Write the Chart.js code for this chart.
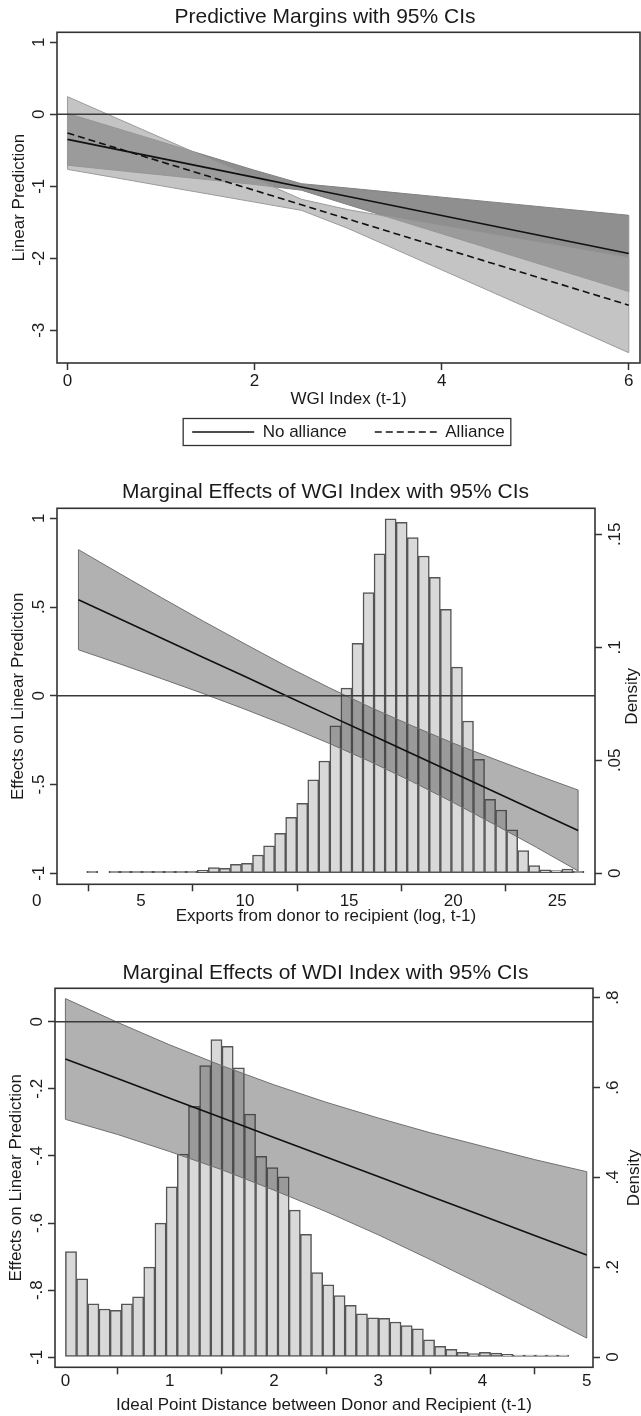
<!DOCTYPE html>
<html>
<head>
<meta charset="utf-8">
<script src="https://cdn.jsdelivr.net/npm/chart.js@4.4.1/dist/chart.umd.min.js"></script>
<style>
  html, body { margin: 0; padding: 0; background: #fff; }
  #wrap { position: relative; width: 641px; height: 1416px; overflow: hidden; }
  canvas { position: absolute; left: 0; }
</style>
</head>
<body>
<div id="wrap">
  <canvas id="c1" width="641" height="460" style="top:0"></canvas>
  <canvas id="c2" width="641" height="470" style="top:460px"></canvas>
  <canvas id="c3" width="641" height="486" style="top:930px"></canvas>
</div>
<script>
/* global Chart */

// panel 1: predictive margins over WGI index
const p1X = [0, 0.5, 1, 1.5, 2, 2.5, 3, 3.5, 4, 4.5, 5, 5.5, 6];
const p1NoAlliance = [-0.348, -0.480, -0.612, -0.744, -0.876, -1.009, -1.141, -1.273, -1.405, -1.537, -1.669, -1.801, -1.933];
const p1NoAllianceHi = [0.012, -0.185, -0.382, -0.580, -0.777, -0.964, -1.025, -1.088, -1.151, -1.214, -1.277, -1.340, -1.403];
const p1NoAllianceLo = [-0.708, -0.775, -0.842, -0.908, -0.975, -1.054, -1.257, -1.458, -1.659, -1.860, -2.061, -2.262, -2.463];
const p1Alliance = [-0.260, -0.459, -0.659, -0.858, -1.057, -1.257, -1.456, -1.655, -1.855, -2.054, -2.253, -2.453, -2.652];
const p1AllianceHi = [0.245, -0.040, -0.325, -0.610, -0.894, -1.180, -1.326, -1.437, -1.549, -1.660, -1.771, -1.883, -1.992];
const p1AllianceLo = [-0.765, -0.878, -0.993, -1.106, -1.220, -1.334, -1.586, -1.873, -2.161, -2.448, -2.735, -3.023, -3.312];
const p1XTicks = [0, 2, 4, 6];
const p1YTicks = [-3, -2, -1, 0, 1];

// panel 2: marginal effect of WGI over exports, with export histogram
const p2X = [2, 4, 6, 8, 10, 12, 14, 16, 18, 20, 22, 24, 26];
const p2Effect = [0.541, 0.433, 0.324, 0.216, 0.108, -0.001, -0.109, -0.217, -0.325, -0.434, -0.542, -0.650, -0.759];
const p2Hi = [0.823, 0.687, 0.552, 0.420, 0.292, 0.166, 0.048, -0.064, -0.168, -0.267, -0.358, -0.446, -0.531];
const p2Lo = [0.259, 0.179, 0.096, 0.012, -0.076, -0.168, -0.266, -0.370, -0.482, -0.601, -0.726, -0.854, -0.987];
const p2BinStart = 2.40;
const p2BinWidth = 0.5307;
const p2Density = [0.0003, null, 0.0001, 0.0001, 0.0002, 0.0001, 0.0002, 0.0003, 0.0004, 0.0006,
  0.0013, 0.0025, 0.0022, 0.004, 0.0044, 0.0081, 0.0122, 0.0177, 0.0248, 0.031,
  0.0413, 0.0497, 0.0652, 0.0819, 0.1018, 0.1242, 0.1413, 0.1568, 0.1553, 0.1485,
  0.1404, 0.131, 0.1168, 0.0912, 0.0674, 0.0504, 0.0327, 0.028, 0.0192, 0.010,
  0.0034, 0.0015, 0.0012, 0.0019, 0.0003];
const p2XTicks = [0, 5, 10, 15, 20, 25];
const p2YTicks = [-1, -0.5, 0, 0.5, 1];
const p2DensityTicks = [0, 0.05, 0.1, 0.15];

// panel 3: marginal effect of WDI over ideal point distance, with histogram
const p3X = [0, 0.5, 1, 1.5, 2, 2.5, 3, 3.5, 4, 4.5, 5];
const p3Effect = [-0.111, -0.169, -0.228, -0.286, -0.345, -0.403, -0.461, -0.520, -0.578, -0.637, -0.695];
const p3Hi = [0.069, -0.002, -0.069, -0.131, -0.188, -0.240, -0.287, -0.331, -0.371, -0.411, -0.447];
const p3Lo = [-0.291, -0.336, -0.387, -0.441, -0.502, -0.566, -0.635, -0.709, -0.785, -0.863, -0.943];
const p3BinStart = 0;
const p3BinWidth = 0.1073;
const p3Density = [0.235, 0.174, 0.1185, 0.107, 0.104, 0.1185, 0.134, 0.200, 0.298, 0.379,
  0.452, 0.558, 0.649, 0.707, 0.692, 0.644, 0.541, 0.447, 0.422, 0.401,
  0.327, 0.273, 0.188, 0.161, 0.137, 0.115, 0.096, 0.087, 0.086, 0.078,
  0.070, 0.063, 0.0385, 0.024, 0.017, 0.0104, 0.0074, 0.0104, 0.009, 0.006,
  0.003, 0.0015, 0.0005, 0.001, 0.001];
const p3XTicks = [0, 1, 2, 3, 4, 5];
const p3YTicks = [-1, -0.8, -0.6, -0.4, -0.2, 0];
const p3DensityTicks = [0, 0.2, 0.4, 0.6, 0.8];

const FONT = "'Liberation Sans', Arial, Helvetica, sans-serif";
const INK = "#1a1a1a";
const AXIS = "#333333";
const BAND = "rgba(60, 60, 60, 0.4)";
const BAND_EDGE = "#707070";
const BAR_FILL = "#d9d9d9";
const BAR_EDGE = "#555555";

Chart.defaults.font.family = FONT;
Chart.defaults.color = INK;

function pts(xs, ys) {
  return xs.map((x, i) => ({ x, y: ys[i] }));
}

function bins(start, width, ys) {
  return ys.map((y, i) => ({ x: start + width * (i + 0.5), y }));
}

// closing stroke of a band at one end (index i of its arrays)
function bandEnd(xs, lo, hi, i) {
  return [{ x: xs[i], y: lo[i] }, { x: xs[i], y: hi[i] }];
}

// stata style: .5 instead of 0.5
function stataLabel(v) {
  return String(+Number(v).toFixed(3)).replace(/^(-?)0\./, "$1.");
}

function fixTicks(values) {
  return (scale) => {
    scale.ticks = values.map((value) => ({ value }));
  };
}

function xScale(c) {
  return {
    type: "linear",
    position: "bottom",
    min: c.min,
    max: c.max,
    afterBuildTicks: fixTicks(c.ticks),
    afterFit: (s) => { s.height = c.height; },
    border: { display: false },
    grid: { drawOnChartArea: false, tickLength: 7, tickWidth: 1.5, tickColor: AXIS },
    ticks: { autoSkip: false, maxRotation: 0, padding: c.pad, font: { size: 17 }, color: INK, callback: stataLabel },
    title: { display: true, text: c.title, font: { size: 17 }, color: INK, padding: { top: 0, bottom: c.titlePad } },
  };
}

function yScale(c) {
  return {
    type: "linear",
    position: c.position,
    min: c.min,
    max: c.max,
    afterBuildTicks: fixTicks(c.ticks),
    afterFit: (s) => { s.width = c.width; },
    border: { display: false },
    grid: { drawOnChartArea: false, tickLength: 7, tickWidth: 1.5, tickColor: AXIS },
    ticks: {
      autoSkip: false, minRotation: 90, maxRotation: 90, crossAlign: "center",
      padding: c.pad, font: { size: 17 }, color: INK, callback: stataLabel,
    },
    title: c.title
      ? { display: true, text: c.title, font: { size: 17 }, color: INK, padding: { top: c.titlePad, bottom: 0 } }
      : { display: false },
  };
}

function lineSet(label, data, extra) {
  return Object.assign({
    type: "line", label, data, xAxisID: "x", yAxisID: "y",
    pointRadius: 0, fill: false, tension: 0,
  }, extra);
}

const plotFrame = {
  id: "plotFrame",
  afterDatasetsDraw(chart) {
    const { ctx, chartArea } = chart;
    const y0 = chart.scales.y.getPixelForValue(0);
    ctx.save();
    ctx.strokeStyle = "#3a3a3a";
    ctx.lineWidth = 1.5;
    ctx.beginPath();
    ctx.moveTo(chartArea.left, y0);
    ctx.lineTo(chartArea.right, y0);
    ctx.stroke();
    ctx.restore();
  },
  afterDraw(chart) {
    const { ctx, chartArea } = chart;
    ctx.save();
    ctx.strokeStyle = AXIS;
    ctx.lineWidth = 1.6;
    ctx.strokeRect(chartArea.left, chartArea.top, chartArea.right - chartArea.left, chartArea.bottom - chartArea.top);
    ctx.restore();
  },
};

const legendFrame = {
  id: "legendFrame",
  afterDraw(chart) {
    const lg = chart.legend;
    if (!lg || !lg.options.display || !lg.legendHitBoxes.length) return;
    const hb = lg.legendHitBoxes;
    const left = Math.min(...hb.map((b) => b.left)) - 9;
    const right = Math.max(...hb.map((b) => b.left + b.width)) + 6;
    const top = hb[0].top - 5;
    const bottom = hb[0].top + hb[0].height + 5;
    const { ctx } = chart;
    ctx.save();
    ctx.strokeStyle = AXIS;
    ctx.lineWidth = 1.3;
    ctx.strokeRect(left, top, right - left, bottom - top);
    ctx.restore();
  },
};

// right-hand axis title reading bottom to top, like the other side
const sideTitle = {
  id: "sideTitle",
  afterDraw(chart, args, opts) {
    if (!opts || !opts.text) return;
    const s = chart.scales.y2;
    const { ctx, chartArea } = chart;
    ctx.save();
    ctx.fillStyle = INK;
    ctx.font = `17px ${FONT}`;
    ctx.textAlign = "center";
    ctx.textBaseline = "middle";
    ctx.translate(s.right - opts.inset, (chartArea.top + chartArea.bottom) / 2);
    ctx.rotate(-Math.PI / 2);
    ctx.fillText(opts.text, 0, 0);
    ctx.restore();
  },
};

function titleOpts(text, top, bottom) {
  return { display: true, text, color: INK, font: { size: 21, weight: "normal" }, padding: { top, bottom } };
}

const base = { responsive: false, animation: false, events: [] };

// ---- panel 1 ----
const p1Last = p1X.length - 1;
new Chart(document.getElementById("c1"), {
  type: "line",
  data: {
    datasets: [
      lineSet("No alliance", pts(p1X, p1NoAlliance), { borderColor: "#111", borderWidth: 1.6, order: 0 }),
      lineSet("Alliance", pts(p1X, p1Alliance), { borderColor: "#111", borderWidth: 1.6, borderDash: [7, 4], order: 1 }),
      lineSet("Alliance lo", pts(p1X, p1AllianceLo), { borderColor: "#9a9a9a", borderWidth: 1, order: 2 }),
      lineSet("Alliance hi", pts(p1X, p1AllianceHi), {
        borderColor: "#9a9a9a", borderWidth: 1, fill: 2, backgroundColor: "rgba(163,163,163,0.64)", order: 2,
      }),
      lineSet("No alliance lo", pts(p1X, p1NoAllianceLo), { borderColor: "#808080", borderWidth: 1, order: 3 }),
      lineSet("No alliance hi", pts(p1X, p1NoAllianceHi), {
        borderColor: "#808080", borderWidth: 1, fill: 4, backgroundColor: "#8f8f8f", order: 3,
      }),
      lineSet("Alliance start", bandEnd(p1X, p1AllianceLo, p1AllianceHi, 0), { borderColor: "#9a9a9a", borderWidth: 1, order: 2 }),
      lineSet("Alliance end", bandEnd(p1X, p1AllianceLo, p1AllianceHi, p1Last), { borderColor: "#9a9a9a", borderWidth: 1, order: 2 }),
      lineSet("No alliance start", bandEnd(p1X, p1NoAllianceLo, p1NoAllianceHi, 0), { borderColor: "#808080", borderWidth: 1, order: 3 }),
      lineSet("No alliance end", bandEnd(p1X, p1NoAllianceLo, p1NoAllianceHi, p1Last), { borderColor: "#808080", borderWidth: 1, order: 3 }),
    ],
  },
  options: Object.assign({}, base, {
    layout: { padding: { left: 10, right: 1, top: 0, bottom: 9.5 } },
    scales: {
      x: xScale({ min: -0.112, max: 6.12, ticks: p1XTicks, height: 32.5, pad: 0.8, title: "WGI Index (t-1)", titlePad: -13.7 }),
      y: yScale({ position: "left", min: -3.455, max: 1.139, ticks: p1YTicks, width: 47, pad: 3.6, title: "Linear Prediction", titlePad: -0.6 }),
    },
    plugins: {
      title: titleOpts("Predictive Margins with 95% CIs", 4.4, 2.7),
      tooltip: { enabled: false },
      legend: {
        display: true,
        position: "bottom",
        fullSize: false,
        labels: {
          usePointStyle: true,
          pointStyle: "line",
          pointStyleWidth: 62,
          boxHeight: 17,
          padding: 28,
          color: INK,
          font: { size: 17 },
          generateLabels: (chart) => chart.data.datasets.slice(0, 2).map((ds, i) => ({
            text: ds.label,
            fillStyle: "rgba(0,0,0,0)",
            strokeStyle: ds.borderColor,
            lineWidth: ds.borderWidth,
            lineDash: ds.borderDash || [],
            pointStyle: "line",
            rotation: 0,
            hidden: false,
            datasetIndex: i,
            fontColor: INK,
          })),
        },
      },
    },
  }),
  plugins: [plotFrame, legendFrame],
});

// ---- panels 2 and 3 share one layout ----
function effectChart(id, c) {
  const last = c.x.length - 1;
  return new Chart(document.getElementById(id), {
    type: "line",
    data: {
      datasets: [
        lineSet("Effect", pts(c.x, c.effect), { borderColor: "#111", borderWidth: 1.6, order: 0 }),
        lineSet("CI lo", pts(c.x, c.lo), { borderColor: BAND_EDGE, borderWidth: 1, order: 1 }),
        lineSet("CI hi", pts(c.x, c.hi), { borderColor: BAND_EDGE, borderWidth: 1, fill: 1, backgroundColor: BAND, order: 1 }),
        {
          type: "bar",
          label: "Density",
          data: bins(c.binStart, c.binWidth, c.density),
          xAxisID: "x",
          yAxisID: "y2",
          backgroundColor: BAR_FILL,
          borderColor: BAR_EDGE,
          borderWidth: 1.5,
          borderSkipped: false,
          minBarLength: 2,
          categoryPercentage: 1,
          barPercentage: 1,
          order: 3,
        },
        lineSet("CI start", bandEnd(c.x, c.lo, c.hi, 0), { borderColor: BAND_EDGE, borderWidth: 1, order: 1 }),
        lineSet("CI end", bandEnd(c.x, c.lo, c.hi, last), { borderColor: BAND_EDGE, borderWidth: 1, order: 1 }),
      ],
    },
    options: Object.assign({}, base, {
      layout: { padding: { left: 10, right: 0, top: 0, bottom: 0 } },
      scales: {
        x: Object.assign(xScale(c.xAxis), { offset: false }),
        y: yScale(c.yAxis),
        y2: yScale(c.y2Axis),
      },
      plugins: {
        title: titleOpts(c.title, c.titleTop, c.titleBottom),
        tooltip: { enabled: false },
        legend: { display: false },
        sideTitle: { text: "Density", inset: c.densityInset },
      },
    }),
    plugins: [plotFrame, sideTitle],
  });
}

effectChart("c2", {
  title: "Marginal Effects of WGI Index with 95% CIs",
  titleTop: 20.1,
  titleBottom: 3,
  x: p2X, effect: p2Effect, hi: p2Hi, lo: p2Lo,
  binStart: p2BinStart, binWidth: p2BinWidth, density: p2Density,
  xAxis: { min: 0.97, max: 26.81, ticks: p2XTicks, height: 45.7, pad: 0, title: "Exports from donor to recipient (log, t-1)", titlePad: 3.8 },
  yAxis: { position: "left", min: -1.062, max: 1.056, ticks: p2YTicks, width: 47, pad: 1.1, title: "Effects on Linear Prediction", titlePad: -1.8 },
  y2Axis: { position: "right", min: -0.00487, max: 0.1615, ticks: p2DensityTicks, width: 46, pad: 1.2 },
  densityInset: 9,
});

effectChart("c3", {
  title: "Marginal Effects of WDI Index with 95% CIs",
  titleTop: 30.4,
  titleBottom: 2.7,
  x: p3X, effect: p3Effect, hi: p3Hi, lo: p3Lo,
  binStart: p3BinStart, binWidth: p3BinWidth, density: p3Density,
  xAxis: { min: -0.0998, max: 5.06, ticks: p3XTicks, height: 48.7, pad: -2.8, title: "Ideal Point Distance between Donor and Recipient (t-1)", titlePad: 0.8 },
  yAxis: { position: "left", min: -1.03, max: 0.0996, ticks: p3YTicks, width: 45, pad: 0.6, title: "Effects on Linear Prediction", titlePad: -3.8 },
  y2Axis: { position: "right", min: -0.0229, max: 0.821, ticks: p3DensityTicks, width: 48, pad: 5.9 },
  densityInset: 7,
});
</script>
</body>
</html>
